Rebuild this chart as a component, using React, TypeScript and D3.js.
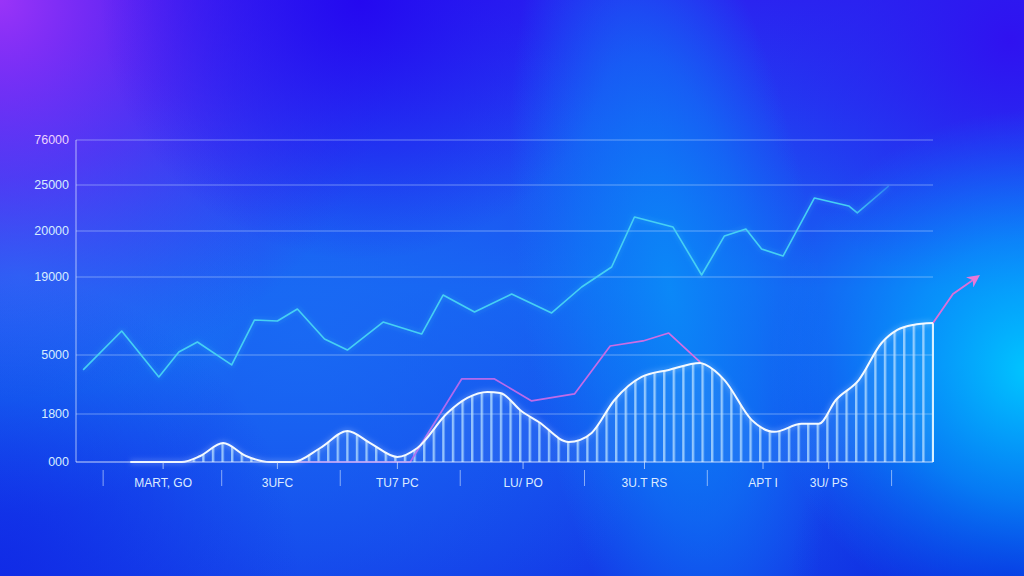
import * as d3 from "d3";

// x runs on an abstract period index, y on a piecewise value scale (the axis ticks are unevenly spaced)
const xDomain = [0, 60];
const yTickValues = [0, 1800, 5000, 15000, 20000, 25000, 30000];
const yTickLabels = ["000", "1800", "5000", "19000", "20000", "25000", "76000"];

const xLabelPos = [6.1, 14.1, 22.5, 31.3, 39.8, 48.1, 52.7];
const xLabels = ["MART, GO", "3UFC", "TU7 PC", "LU/ PO", "3U.T RS", "APT I", "3U/ PS"];
const xSeparators = [1.9, 10.2, 18.5, 26.9, 35.6, 44.2, 57.1];

const cyanT = [0.5, 3.2, 5.8, 7.2, 8.5, 10.9, 12.5, 14.1, 15.5, 17.4, 19.0, 21.5, 24.2, 25.7, 27.9, 30.5, 33.3, 35.4, 37.5, 39.1, 41.8, 43.8, 45.4, 46.9, 48.0, 49.5, 51.7, 54.1, 54.7, 56.9];
const cyanV = [4190, 8080, 3810, 5390, 6670, 4460, 9490, 9360, 10900, 7050, 5640, 9230, 7690, 12690, 10510, 12820, 10390, 13720, 16090, 21520, 20430, 15220, 19460, 20220, 18040, 17280, 23590, 22720, 21960, 24890];

const pinkT = [15.0, 23.4, 27.0, 29.3, 31.9, 34.9, 37.4, 39.7, 41.5, 43.7];
const pinkV = [0, 0, 3700, 3700, 2510, 2890, 6150, 6800, 7820, 4620];

const arrowT = [60, 61.4, 63.0];
const arrowV = [9100, 12820, 14870];

const waveT = [3.8, 7.4, 8.7, 10.3, 11.9, 13.6, 15.2, 17.1, 19.0, 20.6, 22.5, 23.9, 26.0, 27.4, 28.8, 29.7, 31.2, 32.4, 34.5, 35.3, 36.1, 37.7, 39.6, 41.5, 43.7, 44.1, 45.4, 47.3, 48.9, 50.8, 52.0, 53.2, 54.8, 56.4, 57.5, 58.6, 60.0];
const waveV = [0, 0, 225, 710, 225, 0, 0, 525, 1160, 710, 190, 525, 1850, 2670, 2990, 2940, 1950, 1500, 750, 830, 1090, 2560, 3810, 4190, 4570, 4460, 3640, 1580, 1130, 1430, 1430, 2560, 3640, 6540, 8210, 8850, 9100];

type Pt = [number, number];
const zip = (a: number[], b: number[]): Pt[] => a.map((d, i) => [d, b[i]]);

export default function App() {
  const W = 1024;
  const H = 576;
  const left = 76;
  const right = 933;
  const top = 140;
  const bottom = 462;
  const hatchStep = 9.6;

  const x = d3.scaleLinear().domain(xDomain).range([left, right]);
  const y = d3
    .scaleLinear()
    .domain(yTickValues)
    .range([bottom, 414, 355, 277, 231, 185, top]);

  const line = d3
    .line<Pt>()
    .x((d) => x(d[0]))
    .y((d) => y(d[1]));

  const smooth = d3
    .line<Pt>()
    .x((d) => x(d[0]))
    .y((d) => y(d[1]))
    .curve(d3.curveMonotoneX);

  const area = d3
    .area<Pt>()
    .x((d) => x(d[0]))
    .y0(y(0))
    .y1((d) => y(d[1]))
    .curve(d3.curveMonotoneX);

  const cyan = zip(cyanT, cyanV);
  const pink = zip(pinkT, pinkV);
  const arrow = zip(arrowT, arrowV);
  const wave = zip(waveT, waveV);
  const last = wave[wave.length - 1];

  const font = "Liberation Sans, Arial, sans-serif";

  return (
    <div style={{ position: "fixed", left: 0, top: 0 }}>
      <svg width={W} height={H} style={{ display: "block" }}>
        <defs>
          <linearGradient id="bg" x1="0" y1="0" x2="0" y2="1">
            <stop offset="0" stopColor="#2a24f0" />
            <stop offset="0.5" stopColor="#1662f2" />
            <stop offset="1" stopColor="#143ce8" />
          </linearGradient>
          <radialGradient id="gPurple" cx="0" cy="0" r="400" gradientUnits="userSpaceOnUse">
            <stop offset="0" stopColor="#9a34f8" stopOpacity="1" />
            <stop offset="0.45" stopColor="#6a22f4" stopOpacity="0.65" />
            <stop offset="1" stopColor="#4a18f0" stopOpacity="0" />
          </radialGradient>
          <radialGradient id="gDeep" cx="360" cy="0" r="260" gradientUnits="userSpaceOnUse">
            <stop offset="0" stopColor="#2406f0" stopOpacity="0.95" />
            <stop offset="0.6" stopColor="#2410f0" stopOpacity="0.45" />
            <stop offset="1" stopColor="#2410f0" stopOpacity="0" />
          </radialGradient>
          <radialGradient id="gDeepR" cx="1010" cy="40" r="260" gradientUnits="userSpaceOnUse">
            <stop offset="0" stopColor="#3010f0" stopOpacity="0.95" />
            <stop offset="0.6" stopColor="#2a20f0" stopOpacity="0.45" />
            <stop offset="1" stopColor="#2a20f0" stopOpacity="0" />
          </radialGradient>
          <radialGradient
            id="gBand"
            cx="0"
            cy="0"
            r="1"
            gradientUnits="userSpaceOnUse"
            gradientTransform="translate(670,290) rotate(-8) scale(150,430)"
          >
            <stop offset="0" stopColor="#0a8cf8" stopOpacity="0.9" />
            <stop offset="0.55" stopColor="#0a84f8" stopOpacity="0.5" />
            <stop offset="1" stopColor="#0a80f8" stopOpacity="0" />
          </radialGradient>
          <radialGradient id="gMid" cx="300" cy="330" r="380" gradientUnits="userSpaceOnUse">
            <stop offset="0" stopColor="#1a6cf4" stopOpacity="0.8" />
            <stop offset="1" stopColor="#1a6cf4" stopOpacity="0" />
          </radialGradient>
          <radialGradient id="gCyan" cx="1030" cy="370" r="260" gradientUnits="userSpaceOnUse">
            <stop offset="0" stopColor="#00c6ff" stopOpacity="1" />
            <stop offset="0.5" stopColor="#00aaff" stopOpacity="0.6" />
            <stop offset="1" stopColor="#0090ff" stopOpacity="0" />
          </radialGradient>
          <radialGradient id="gBR" cx="1010" cy="576" r="220" gradientUnits="userSpaceOnUse">
            <stop offset="0" stopColor="#0a22dc" stopOpacity="0.95" />
            <stop offset="1" stopColor="#0a22dc" stopOpacity="0" />
          </radialGradient>
          <radialGradient id="gBL" cx="0" cy="576" r="300" gradientUnits="userSpaceOnUse">
            <stop offset="0" stopColor="#1028e6" stopOpacity="0.85" />
            <stop offset="1" stopColor="#1028e6" stopOpacity="0" />
          </radialGradient>
          <radialGradient id="gLeft" cx="20" cy="275" r="240" gradientUnits="userSpaceOnUse">
            <stop offset="0" stopColor="#1688f6" stopOpacity="0.9" />
            <stop offset="1" stopColor="#1688f6" stopOpacity="0" />
          </radialGradient>
          <linearGradient id="cyanFade" gradientUnits="userSpaceOnUse" x1={x(54)} y1="0" x2={x(57)} y2="0">
            <stop offset="0" stopColor="#45d0f4" stopOpacity="1" />
            <stop offset="1" stopColor="#45d0f4" stopOpacity="0.35" />
          </linearGradient>
          <linearGradient id="pinkGrad" gradientUnits="userSpaceOnUse" x1={x(23)} y1="0" x2={x(44)} y2="0">
            <stop offset="0" stopColor="#a868f0" />
            <stop offset="1" stopColor="#d86ee0" />
          </linearGradient>
          <pattern id="hatch" patternUnits="userSpaceOnUse" width={hatchStep} height="10" x={right - 1.2}>
            <rect width={hatchStep} height="10" fill="#8cc8ff" fillOpacity="0.12" />
            <rect width="2.4" height="10" fill="#b4dcff" fillOpacity="0.78" />
          </pattern>
          <marker id="arrowHead" viewBox="0 0 10 10" refX="6" refY="5" markerWidth="7" markerHeight="7" orient="auto">
            <path d="M0,0 L10,5 L0,10 L3,5 Z" fill="#e878d8" />
          </marker>
          <filter id="glow" x="-10%" y="-10%" width="120%" height="120%">
            <feGaussianBlur stdDeviation="2.5" />
          </filter>
        </defs>

        <rect width={W} height={H} fill="url(#bg)" />
        <rect width={W} height={H} fill="url(#gMid)" />
        <rect width={W} height={H} fill="url(#gLeft)" />
        <rect width={W} height={H} fill="url(#gBL)" />
        <rect width={W} height={H} fill="url(#gPurple)" />
        <rect width={W} height={H} fill="url(#gDeep)" />
        <rect width={W} height={H} fill="url(#gDeepR)" />
        <rect width={W} height={H} fill="url(#gBand)" />
        <rect width={W} height={H} fill="url(#gBR)" />
        <rect width={W} height={H} fill="url(#gCyan)" />

        {/* grid */}
        {yTickValues.slice(1).map((v) => (
          <line key={v} x1={left} x2={right} y1={y(v)} y2={y(v)} stroke="#cfe2ff" strokeOpacity="0.45" strokeWidth="1" />
        ))}
        <line x1={left} x2={left} y1={top} y2={bottom} stroke="#dfeaff" strokeOpacity="0.7" />

        {/* y labels */}
        {yTickValues.map((v, i) => (
          <text
            key={v}
            x={69}
            y={y(v)}
            dy="0.35em"
            textAnchor="end"
            fontFamily={font}
            fontSize="12.5"
            fill={i === yTickValues.length - 1 ? "#ecd2ff" : "#d6ecff"}
          >
            {yTickLabels[i]}
          </text>
        ))}

        {/* hatched area */}
        <path d={area(wave) ?? ""} fill="url(#hatch)" />
        <line x1={x(last[0])} x2={x(last[0])} y1={y(last[1])} y2={y(0)} stroke="#d8f0ff" strokeWidth="2" />

        {/* cyan line */}
        <path d={line(cyan) ?? ""} fill="none" stroke="#45d0f4" strokeWidth="4" strokeOpacity="0.2" filter="url(#glow)" />
        <path d={line(cyan) ?? ""} fill="none" stroke="url(#cyanFade)" strokeWidth="1.6" strokeLinejoin="round" />

        {/* pink line */}
        <path d={line(pink) ?? ""} fill="none" stroke="url(#pinkGrad)" strokeWidth="1.7" strokeLinejoin="round" />
        <path d={line(arrow) ?? ""} fill="none" stroke="#dc70d8" strokeWidth="1.8" markerEnd="url(#arrowHead)" />

        {/* white wave */}
        <path d={smooth(wave) ?? ""} fill="none" stroke="#ffffff" strokeWidth="5" strokeOpacity="0.2" filter="url(#glow)" />
        <path d={smooth(wave) ?? ""} fill="none" stroke="#f4faff" strokeWidth="2" />

        {/* x axis */}
        <line x1={left} x2={right} y1={bottom} y2={bottom} stroke="#e8f0ff" strokeOpacity="0.85" strokeWidth="1.2" />
        {xLabelPos.map((t) => (
          <line key={"s" + t} x1={x(t)} x2={x(t)} y1={bottom} y2={bottom + 7} stroke="#d8e8ff" strokeOpacity="0.7" />
        ))}
        {xSeparators.map((t) => (
          <line key={"l" + t} x1={x(t)} x2={x(t)} y1={bottom + 8} y2={bottom + 24} stroke="#d8e8ff" strokeOpacity="0.6" />
        ))}
        {xLabels.map((s, i) => (
          <text
            key={s}
            x={x(xLabelPos[i])}
            y={483}
            dy="0.35em"
            textAnchor="middle"
            fontFamily={font}
            fontSize="12"
            fill="#dcebff"
          >
            {s}
          </text>
        ))}
      </svg>
    </div>
  );
}
